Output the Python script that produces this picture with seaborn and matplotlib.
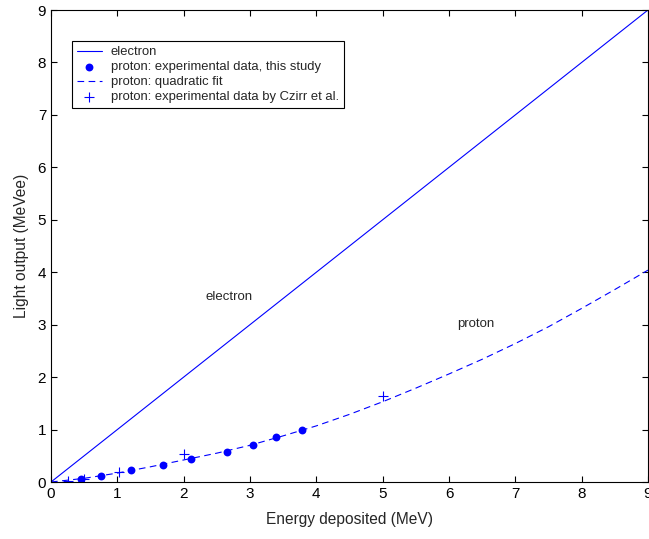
import matplotlib
matplotlib.use("Agg")
import matplotlib.pyplot as plt
import seaborn as sns
import pandas as pd

# Data
electron_x = [0, 1, 2, 3, 4, 5, 6, 7, 8, 9]
electron_y = [0, 1, 2, 3, 4, 5, 6, 7, 8, 9]

fit_x = [0, 0.5, 1, 1.5, 2, 2.5, 3, 3.5, 4, 4.5, 5, 5.5, 6, 6.5, 7, 7.5, 8, 8.5, 9]
fit_y = [0, 0.07, 0.17, 0.29, 0.42, 0.55, 0.70, 0.88, 1.07, 1.29, 1.53, 1.79, 2.06,
         2.34, 2.64, 2.96, 3.31, 3.67, 4.04]

study_x = [0.45, 0.76, 1.20, 1.69, 2.11, 2.65, 3.04, 3.39, 3.78]
study_y = [0.05, 0.11, 0.22, 0.32, 0.44, 0.57, 0.71, 0.86, 0.99]

czirr_x = [0.26, 0.49, 1.02, 2.01, 5.01]
czirr_y = [0.02, 0.06, 0.19, 0.53, 1.64]

x_ticks = [0, 1, 2, 3, 4, 5, 6, 7, 8, 9]
y_ticks = [0, 1, 2, 3, 4, 5, 6, 7, 8, 9]

sns.set_style("ticks")
plt.rcParams['font.family'] = ['Liberation Sans', 'DejaVu Sans']

fig = plt.figure(figsize=(6.49, 5.39), dpi=100)
ax = fig.add_axes([51/649, 1 - 482/539, 597/649, 472/539])

blue = "#0000ff"

sns.lineplot(x=electron_x, y=electron_y, ax=ax, color=blue, linewidth=0.8,
             label="electron")
sns.scatterplot(x=study_x, y=study_y, ax=ax, color=blue, marker="o", s=32,
                edgecolor=blue, linewidth=0, label="proton: experimental data, this study")
sns.lineplot(x=fit_x, y=fit_y, ax=ax, color=blue, linewidth=0.8,
             linestyle=(0, (6, 4)), label="proton: quadratic fit")
sns.scatterplot(x=czirr_x, y=czirr_y, ax=ax, color=blue, marker="+", s=45,
                linewidth=0.8, label="proton: experimental data by Czirr et al.")

ax.set_xlim(0, 9)
ax.set_ylim(0, 9)
ax.set_xticks(x_ticks)
ax.set_yticks(y_ticks)
ax.tick_params(direction="in", top=True, right=True, labelsize=11, length=4,
               width=0.8, colors="black")
for s in ax.spines.values():
    s.set_visible(True)
    s.set_linewidth(0.8)
    s.set_color("black")

ax.set_xlabel("Energy deposited (MeV)", fontsize=11.2, labelpad=8)
ax.set_ylabel("Light output (MeVee)", fontsize=11.2, labelpad=6)

ax.text(2.68, 3.53, "electron", fontsize=9.5, ha="center", va="center")
ax.text(6.41, 3.02, "proton", fontsize=9.5, ha="center", va="center")

leg = ax.legend(loc="upper left", bbox_to_anchor=(0.035, 0.934), fontsize=9.4,
                frameon=True, fancybox=False, edgecolor="black", framealpha=1,
                borderpad=0.38, labelspacing=0.22, handlelength=1.9,
                handletextpad=0.7, borderaxespad=0)
leg.get_frame().set_linewidth(0.8)

fig.savefig("out.png", dpi=100)
